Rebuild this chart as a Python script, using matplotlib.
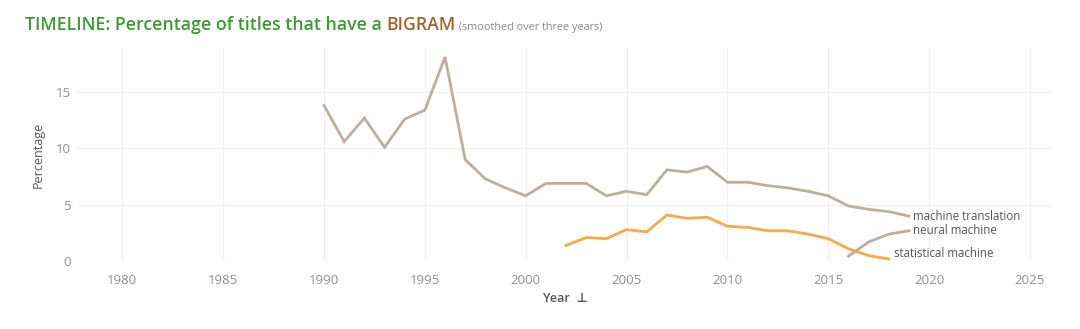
import matplotlib
matplotlib.use("Agg")
import matplotlib.pyplot as plt

plt.rcParams['font.family'] = ['Open Sans', 'DejaVu Sans']

# machine translation, 1990-2019
mt_years = list(range(1990, 2020))
mt_vals = [13.8, 10.6, 12.7, 10.1, 12.6, 13.4, 18.1, 9.0, 7.3, 6.5, 5.8,
           6.9, 6.9, 6.9, 5.8, 6.2, 5.9, 8.1, 7.9, 8.4, 7.0,
           7.0, 6.7, 6.5, 6.2, 5.8, 4.9, 4.6, 4.4, 4.0]

# statistical machine, 2002-2018
sm_years = list(range(2002, 2019))
sm_vals = [1.4, 2.1, 2.0, 2.8, 2.6, 4.1, 3.8, 3.9, 3.1, 3.0, 2.7, 2.7,
           2.4, 2.0, 1.1, 0.5, 0.2]

# neural machine, 2016-2019
nm_years = [2016, 2017, 2018, 2019]
nm_vals = [0.45, 1.7, 2.4, 2.7]

grey_line = '#bcaf9f'
orange = '#f6aa48'
tick_col = '#8f8f8f'
text_col = '#555555'

fig = plt.figure(figsize=(10.8, 3.29), dpi=100)
ax = fig.add_axes([0.0722, 0.206, 0.902, 0.648])

ax.plot(mt_years, mt_vals, color=grey_line, lw=2.0, solid_joinstyle='miter')
ax.plot(sm_years, sm_vals, color=orange, lw=2.0, solid_joinstyle='miter')
ax.plot(nm_years, nm_vals, color=grey_line, lw=2.0, solid_joinstyle='miter')

ax.annotate('machine translation', (mt_years[-1], mt_vals[-1]), xytext=(3, 0),
            textcoords='offset points', va='center', ha='left', fontsize=8.3, color=text_col)
ax.annotate('neural machine', (nm_years[-1], nm_vals[-1]), xytext=(3, 0),
            textcoords='offset points', va='center', ha='left', fontsize=8.3, color=text_col)
ax.annotate('statistical machine', (sm_years[-1], sm_vals[-1]), xytext=(4, 4),
            textcoords='offset points', va='center', ha='left', fontsize=8.3, color=text_col)

ax.set_xlim(1977.8, 2026.1)
ax.set_ylim(0, 18.9)
ax.set_xticks(range(1980, 2030, 5))
ax.set_yticks([0, 5, 10, 15])
ax.grid(True, color='#f0f0f0', lw=0.9)
ax.set_axisbelow(True)
for s in ax.spines.values():
    s.set_visible(False)
ax.tick_params(length=0, labelsize=9.5, labelcolor=tick_col)
ax.tick_params(axis='x', pad=9)
ax.tick_params(axis='y', pad=5)
ax.set_ylabel('Percentage', fontsize=9, color=text_col, labelpad=8)
ax.set_xlabel('Year  \u22a5', fontsize=9, color=text_col, fontweight='semibold', labelpad=4)

# title in coloured pieces
fig.canvas.draw()
r = fig.canvas.get_renderer()
x = 25 / 1080
y = 1 - 30 / 329
pieces = [('TIMELINE: Percentage of titles that have a ', '#3d9a34', 12.8, 'semibold'),
          ('BIGRAM', '#a3622c', 12.8, 'semibold'),
          (' (smoothed over three years)', '#8a8a8a', 7.8, 'normal')]
for txt, col, fs, fw in pieces:
    t = fig.text(x, y, txt, color=col, fontsize=fs, fontweight=fw, va='baseline', ha='left')
    bb = t.get_window_extent(renderer=r)
    x += bb.width / fig.bbox.width

fig.savefig('out.png', dpi=100)
